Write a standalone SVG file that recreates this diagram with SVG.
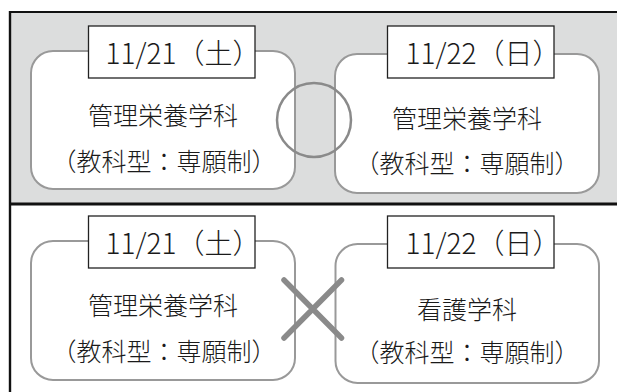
<svg xmlns="http://www.w3.org/2000/svg" width="617" height="392" viewBox="0 0 617 392">
<style>
.panel{fill:#dcdddd;stroke:none}
.frame{stroke:#111;fill:none}
.box{fill:#fff;stroke:#999;stroke-width:2}
.lbl{fill:#fff;stroke:#222;stroke-width:1.3}
text{font-family:"Noto Sans CJK JP","Noto Sans",sans-serif;font-weight:300;fill:#1a1a1a;text-anchor:middle}
.d{font-size:28px}
.t{font-size:25px}
.mark{fill:none;stroke:#8a8a8a}
</style>
<rect x="0" y="0" width="617" height="392" fill="#fff"/>
<rect class="panel" x="10" y="12" width="607" height="192"/>
<line class="frame" x1="10" y1="12" x2="617" y2="12" stroke-width="2"/>
<line class="frame" x1="10" y1="11" x2="10" y2="392" stroke-width="2.4"/>
<line class="frame" x1="10" y1="204" x2="617" y2="204" stroke-width="3"/>

<g id="node-top-left">
<rect class="box" x="31" y="51" width="264" height="138" rx="22"/>
<rect class="lbl" x="88.5" y="26" width="166.5" height="52"/>
<text class="d" x="183" y="64">11/21（土）</text>
<text class="t" x="163" y="124.5">管理栄養学科</text>
<text class="t" x="164" y="170.5">（教科型：専願制）</text>
</g>
<g id="node-top-right">
<rect class="box" x="335" y="54" width="264" height="139" rx="22"/>
<rect class="lbl" x="387.5" y="26" width="166.5" height="52"/>
<text class="d" x="483" y="64">11/22（日）</text>
<text class="t" x="467" y="127.5">管理栄養学科</text>
<text class="t" x="467" y="172.5">（教科型：専願制）</text>
</g>
<g id="node-bottom-left">
<rect class="box" x="31" y="241" width="264" height="139" rx="22"/>
<rect class="lbl" x="88.5" y="216" width="166.5" height="52"/>
<text class="d" x="183" y="254">11/21（土）</text>
<text class="t" x="163" y="314.5">管理栄養学科</text>
<text class="t" x="164" y="360.5">（教科型：専願制）</text>
</g>
<g id="node-bottom-right">
<rect class="box" x="335.5" y="244" width="263.5" height="139" rx="22"/>
<rect class="lbl" x="387.5" y="216" width="166.5" height="52"/>
<text class="d" x="483" y="254">11/22（日）</text>
<text class="t" x="467" y="319">看護学科</text>
<text class="t" x="467" y="362">（教科型：専願制）</text>
</g>
<g id="connectors">
<circle class="mark" cx="314" cy="120" r="37" stroke-width="2.5"/>
<path class="mark" d="M284 280 L341.5 338 M341.5 280 L284 338" stroke-width="5.5" stroke-linecap="round"/>
</g>
</svg>
